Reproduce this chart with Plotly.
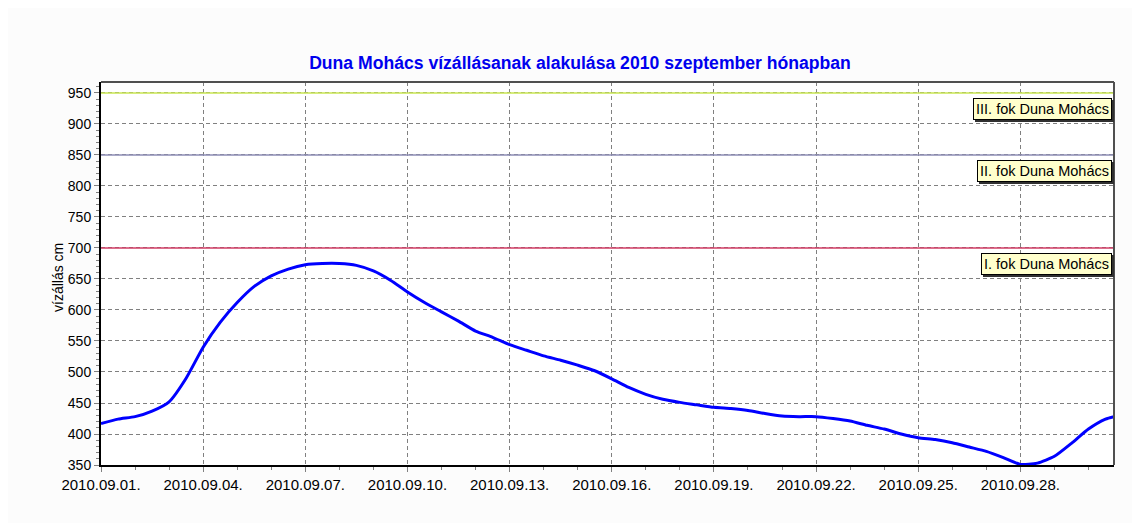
import plotly.graph_objects as go
from datetime import datetime, timedelta

# Readings (12-hourly), starting 2010-09-01 00:00
start = datetime(2010, 9, 1)
hours = [i * 12 for i in range(60)] + [714]
levels = [417, 424, 428, 437, 452, 490, 540, 580, 612, 638,
          655, 666, 673, 675, 675, 672, 663, 648, 629, 612,
          597, 582, 566, 556, 544, 535, 526, 519, 511, 502,
          489, 475, 464, 456, 451, 447, 443, 441, 438, 433,
          429, 428, 428, 425, 421, 414, 408, 400, 394, 391,
          386, 379, 372, 362, 351, 353, 364, 385, 408, 424,
          428]
times = [start + timedelta(hours=h) for h in hours]

# Alert levels
alert_levels = [950, 850, 700]
alert_labels = ["III. fok Duna Mohács", "II. fok Duna Mohács", "I. fok Duna Mohács"]
alert_colors = ["#c8e650", "#8c8cb4", "#d23c64"]

title = "Duna Mohács vízállásanak alakulása 2010 szeptember hónapban"
y_title = "vízállás cm"

x_start = start
x_end = start + timedelta(hours=714)

FONT = "Liberation Sans, Arial"
W, H = 1124, 515
L, R, T, B = 93, 18, 74, 58

fig = go.Figure()
fig.add_trace(go.Scatter(x=times, y=levels, mode="lines",
                         line=dict(color="#0000ff", width=3, shape="spline", smoothing=0.6),
                         hoverinfo="x+y", showlegend=False))

shapes = []
annotations = []
for lv, lab, col in zip(alert_levels, alert_labels, alert_colors):
    shapes.append(dict(type="line", xref="paper", x0=0, x1=1, yref="y", y0=lv, y1=lv,
                       line=dict(color=col, width=1.5), layer="above"))
    # shadow
    annotations.append(dict(text=lab, xref="paper", x=0.998, xanchor="right",
                            yref="y", y=lv, yanchor="middle", yshift=-18, xshift=2,
                            showarrow=False, bgcolor="#303030", bordercolor="#303030",
                            borderwidth=1, borderpad=2,
                            font=dict(family=FONT, size=14.5, color="#303030")))
    annotations.append(dict(text=lab, xref="paper", x=0.998, xanchor="right",
                            yref="y", y=lv, yanchor="middle", yshift=-16,
                            showarrow=False, bgcolor="#ffffcc", bordercolor="#000000",
                            borderwidth=1, borderpad=2,
                            font=dict(family=FONT, size=14.5, color="#000000")))

plot_h = H - T - B
annotations.append(dict(text=y_title, textangle=-90, xref="paper", x=0, xshift=-(L - 50),
                        xanchor="center", yref="paper", y=(H - B - 270) / plot_h, yanchor="middle",
                        showarrow=False, font=dict(family=FONT, size=14, color="#000000")))

fig.update_layout(
    width=W, height=H,
    margin=dict(l=L, r=R, t=T, b=B),
    paper_bgcolor="#fcfcfc", plot_bgcolor="#ffffff",
    title=dict(text="<b>" + title + "</b>", xref="container", x=(580 - 8) / W, xanchor="center",
               y=1 - 55 / H, yanchor="middle",
               font=dict(family=FONT, size=17.6, color="#0000ee")),
    font=dict(family=FONT, size=14, color="#000000"),
    shapes=shapes, annotations=annotations,
    xaxis=dict(range=[x_start, x_end], type="date",
               tick0="2010-09-01", dtick=3 * 86400000, tickformat="%Y.%m.%d.",
               showgrid=True, gridcolor="#808080", griddash="4px,3px", gridwidth=1,
               ticks="outside", ticklen=5, tickcolor="#808080",
               minor=dict(dtick=86400000, ticks="outside", ticklen=3, tickcolor="#808080", showgrid=False),
               showline=True, linecolor="#000000", linewidth=2, mirror=False,
               zeroline=False, tickfont=dict(size=15)),
    yaxis=dict(range=[350, 967.7], tick0=350, dtick=50,
               showgrid=True, gridcolor="#808080", griddash="4px,3px", gridwidth=1,
               ticks="outside", ticklen=5, tickcolor="#808080",
               minor=dict(dtick=10, ticks="outside", ticklen=3, tickcolor="#808080", showgrid=False),
               showline=True, linecolor="#000000", linewidth=2, mirror=False,
               zeroline=False, tickfont=dict(size=14)),
)

# top and right frame
fig.add_shape(type="line", xref="paper", yref="paper", x0=0, x1=1, y0=1, y1=1,
              line=dict(color="#505050", width=2))
fig.add_shape(type="line", xref="paper", yref="paper", x0=1, x1=1, y0=0, y1=1,
              line=dict(color="#505050", width=2))

fig.write_html("out.html")
